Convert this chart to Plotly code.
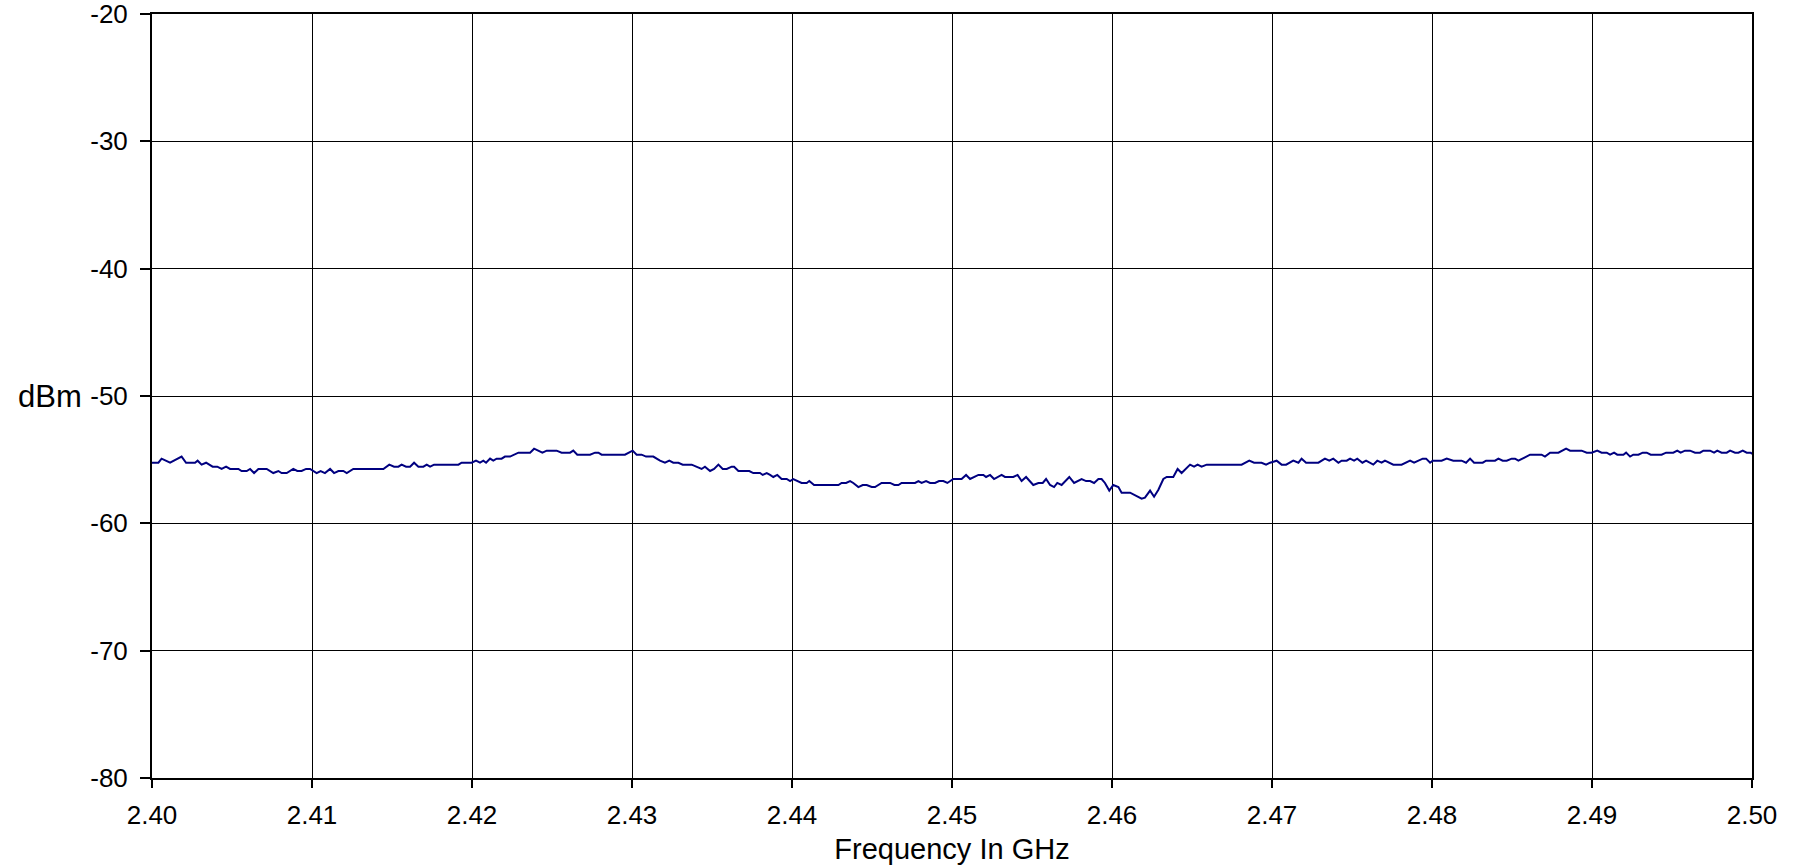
import plotly.graph_objects as go

# Swept spectrum trace: frequency (GHz) vs measured level (dBm)
freq_ghz = [
    2.40000, 2.40040, 2.40060, 2.40113, 2.40185, 2.40213, 2.40269, 2.40285, 2.40310, 2.40338,
    2.40379, 2.40408, 2.40435, 2.40463, 2.40488, 2.40540, 2.40560, 2.40592, 2.40613, 2.40638,
    2.40665, 2.40717, 2.40758, 2.40790, 2.40810, 2.40842, 2.40883, 2.40908, 2.40935, 2.40963,
    2.40988, 2.41029, 2.41054, 2.41081, 2.41113, 2.41138, 2.41165, 2.41196, 2.41217, 2.41258,
    2.41446, 2.41483, 2.41513, 2.41540, 2.41560, 2.41588, 2.41613, 2.41638, 2.41665, 2.41696,
    2.41717, 2.41738, 2.41763, 2.41915, 2.41935, 2.41998, 2.42025, 2.42050, 2.42071, 2.42088,
    2.42113, 2.42133, 2.42154, 2.42185, 2.42206, 2.42238, 2.42290, 2.42363, 2.42388, 2.42415,
    2.42440, 2.42467, 2.42529, 2.42560, 2.42613, 2.42633, 2.42658, 2.42738, 2.42769, 2.42790,
    2.42810, 2.42956, 2.43004, 2.43029, 2.43060, 2.43088, 2.43133, 2.43175, 2.43206, 2.43233,
    2.43258, 2.43290, 2.43317, 2.43373, 2.43404, 2.43435, 2.43456, 2.43488, 2.43513, 2.43540,
    2.43567, 2.43592, 2.43623, 2.43638, 2.43665, 2.43733, 2.43758, 2.43800, 2.43817, 2.43842,
    2.43863, 2.43883, 2.43908, 2.43935, 2.43967, 2.43988, 2.44008, 2.44040, 2.44060, 2.44092,
    2.44108, 2.44138, 2.44290, 2.44310, 2.44338, 2.44363, 2.44383, 2.44415, 2.44442, 2.44467,
    2.44498, 2.44519, 2.44560, 2.44613, 2.44640, 2.44665, 2.44685, 2.44769, 2.44790, 2.44810,
    2.44838, 2.44863, 2.44894, 2.44919, 2.44946, 2.44971, 2.45008, 2.45050, 2.45060, 2.45088,
    2.45113, 2.45165, 2.45196, 2.45213, 2.45238, 2.45263, 2.45310, 2.45331, 2.45383, 2.45410,
    2.45435, 2.45463, 2.45508, 2.45540, 2.45567, 2.45588, 2.45613, 2.45638, 2.45658, 2.45685,
    2.45733, 2.45763, 2.45810, 2.45838, 2.45863, 2.45888, 2.45915, 2.45935, 2.45956, 2.45983,
    2.46008, 2.46040, 2.46060, 2.46113, 2.46185, 2.46206, 2.46238, 2.46263, 2.46290, 2.46321,
    2.46342, 2.46383, 2.46410, 2.46435, 2.46488, 2.46513, 2.46535, 2.46560, 2.46592, 2.46810,
    2.46858, 2.46888, 2.46935, 2.46963, 2.46988, 2.47029, 2.47060, 2.47088, 2.47133, 2.47165,
    2.47185, 2.47213, 2.47290, 2.47331, 2.47358, 2.47383, 2.47415, 2.47435, 2.47467, 2.47488,
    2.47513, 2.47533, 2.47565, 2.47588, 2.47613, 2.47633, 2.47658, 2.47685, 2.47706, 2.47758,
    2.47810, 2.47863, 2.47888, 2.47942, 2.47963, 2.47988, 2.48004, 2.48060, 2.48092, 2.48133,
    2.48185, 2.48213, 2.48238, 2.48263, 2.48317, 2.48338, 2.48394, 2.48415, 2.48442, 2.48467,
    2.48498, 2.48519, 2.48540, 2.48613, 2.48685, 2.48706, 2.48738, 2.48790, 2.48838, 2.48863,
    2.48935, 2.48967, 2.48998, 2.49033, 2.49060, 2.49092, 2.49113, 2.49138, 2.49158, 2.49196,
    2.49213, 2.49238, 2.49258, 2.49290, 2.49317, 2.49342, 2.49367, 2.49435, 2.49463, 2.49508,
    2.49533, 2.49554, 2.49581, 2.49613, 2.49644, 2.49675, 2.49696, 2.49738, 2.49763, 2.49783,
    2.49810, 2.49842, 2.49863, 2.49894, 2.49915, 2.49942, 2.49967, 2.49992, 2.50000,
]

level_dbm = [
    -55.24, -55.24, -54.92, -55.24, -54.76, -55.24, -55.24, -55.08, -55.39, -55.24,
    -55.55, -55.55, -55.73, -55.55, -55.73, -55.73, -55.89, -55.89, -55.73, -56.05,
    -55.73, -55.73, -56.05, -55.89, -56.05, -56.05, -55.73, -55.89, -55.89, -55.73,
    -55.73, -56.05, -55.89, -56.05, -55.73, -56.05, -55.89, -55.89, -56.05, -55.73,
    -55.73, -55.39, -55.55, -55.55, -55.39, -55.55, -55.55, -55.24, -55.55, -55.55,
    -55.39, -55.55, -55.39, -55.39, -55.24, -55.24, -55.08, -55.24, -55.08, -55.24,
    -54.92, -55.08, -54.92, -54.92, -54.76, -54.76, -54.45, -54.45, -54.14, -54.29,
    -54.45, -54.29, -54.29, -54.45, -54.45, -54.29, -54.61, -54.61, -54.45, -54.45,
    -54.61, -54.61, -54.29, -54.61, -54.61, -54.76, -54.76, -55.08, -55.24, -55.08,
    -55.24, -55.24, -55.39, -55.39, -55.55, -55.73, -55.55, -55.89, -55.73, -55.39,
    -55.73, -55.73, -55.55, -55.55, -55.89, -55.89, -56.05, -56.05, -56.20, -56.05,
    -56.20, -56.36, -56.20, -56.52, -56.52, -56.68, -56.52, -56.68, -56.83, -56.83,
    -56.68, -56.99, -56.99, -56.83, -56.83, -56.68, -56.83, -57.15, -56.99, -56.99,
    -57.15, -57.15, -56.83, -56.83, -56.99, -56.99, -56.83, -56.83, -56.68, -56.83,
    -56.68, -56.83, -56.83, -56.68, -56.68, -56.83, -56.52, -56.52, -56.52, -56.20,
    -56.52, -56.20, -56.20, -56.36, -56.20, -56.52, -56.20, -56.36, -56.36, -56.20,
    -56.68, -56.36, -56.99, -56.83, -56.83, -56.52, -56.99, -57.15, -56.83, -56.99,
    -56.36, -56.83, -56.52, -56.68, -56.68, -56.83, -56.52, -56.52, -56.83, -57.43,
    -56.99, -57.15, -57.59, -57.59, -58.06, -57.98, -57.43, -57.91, -57.36, -56.52,
    -56.36, -56.36, -55.73, -56.05, -55.39, -55.55, -55.39, -55.55, -55.39, -55.39,
    -55.08, -55.24, -55.24, -55.39, -55.24, -55.08, -55.39, -55.39, -55.08, -55.24,
    -54.92, -55.24, -55.24, -54.92, -55.08, -54.92, -55.24, -55.08, -55.08, -54.92,
    -55.08, -54.92, -55.24, -55.08, -55.24, -55.39, -55.08, -55.24, -55.08, -55.39,
    -55.39, -55.08, -55.24, -54.92, -54.92, -55.24, -55.08, -55.08, -54.92, -55.08,
    -55.08, -55.24, -54.92, -55.24, -55.24, -55.08, -55.08, -54.92, -55.08, -55.08,
    -54.92, -54.92, -55.08, -54.61, -54.61, -54.76, -54.45, -54.45, -54.14, -54.29,
    -54.29, -54.45, -54.45, -54.29, -54.45, -54.45, -54.61, -54.45, -54.61, -54.61,
    -54.45, -54.76, -54.61, -54.61, -54.45, -54.45, -54.61, -54.61, -54.45, -54.45,
    -54.29, -54.45, -54.29, -54.29, -54.45, -54.45, -54.29, -54.29, -54.45, -54.29,
    -54.45, -54.45, -54.29, -54.45, -54.45, -54.29, -54.45, -54.45, -54.55,
]

x_tick_vals = [2.40, 2.41, 2.42, 2.43, 2.44, 2.45, 2.46, 2.47, 2.48, 2.49, 2.50]
x_tick_text = ["2.40", "2.41", "2.42", "2.43", "2.44", "2.45", "2.46", "2.47", "2.48", "2.49", "2.50"]
y_tick_vals = [-80, -70, -60, -50, -40, -30, -20]
y_tick_text = ["-80", "-70", "-60", "-50", "-40", "-30", "-20"]

FONT = "Liberation Sans, Arial, sans-serif"

fig = go.Figure()
fig.add_trace(go.Scatter(
    x=freq_ghz, y=level_dbm, mode="lines",
    line=dict(color="#000080", width=2),
    hoverinfo="x+y",
))

fig.update_layout(
    width=1811, height=866, autosize=False,
    margin=dict(l=152, r=59, t=14, b=88, pad=0),
    plot_bgcolor="white", paper_bgcolor="white",
    showlegend=False,
    font=dict(family=FONT, size=24, color="black"),
)

fig.update_xaxes(
    range=[2.40, 2.50], automargin=False,
    tickvals=x_tick_vals, ticktext=x_tick_text,
    showgrid=True, gridcolor="black", gridwidth=1,
    showline=True, linecolor="black", linewidth=2, mirror=True,
    ticks="outside", ticklen=8, tickcolor="black", tickwidth=2,
    ticklabelstandoff=5, ticklabeloverflow="allow",
    zeroline=False,
    tickfont=dict(family=FONT, size=26, color="black"),
    title=dict(text="Frequency In GHz", font=dict(family=FONT, size=29, color="black"), standoff=9),
)

fig.update_yaxes(
    range=[-80, -20], automargin=False,
    tickvals=y_tick_vals, ticktext=y_tick_text,
    showgrid=True, gridcolor="black", gridwidth=1,
    showline=True, linecolor="black", linewidth=2, mirror=True,
    ticks="outside", ticklen=10, tickcolor="black", tickwidth=2,
    ticklabelstandoff=7, ticklabeloverflow="allow",
    zeroline=False,
    tickfont=dict(family=FONT, size=26, color="black"),
)

fig.add_annotation(
    text="dBm", xref="paper", yref="y", x=0, y=-50,
    xanchor="right", yanchor="middle", xshift=-68, showarrow=False,
    font=dict(family=FONT, size=31, color="black"),
)

fig.write_html("out.html")
